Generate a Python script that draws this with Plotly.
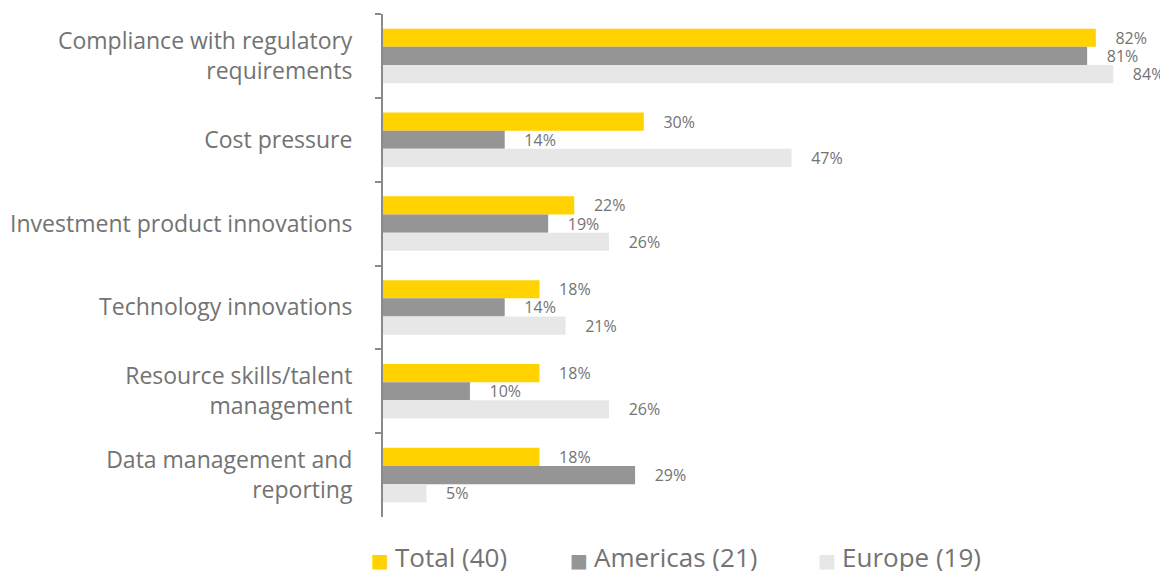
import plotly.graph_objects as go

categories = [
    "Compliance with regulatory<br>requirements",
    "Cost pressure",
    "Investment product innovations",
    "Technology innovations",
    "Resource skills/talent<br>management",
    "Data management and<br>reporting",
]
series_names = ["Total (40)", "Americas (21)", "Europe (19)"]
total = [82, 30, 22, 18, 18, 18]
americas = [81, 14, 19, 14, 10, 29]
europe = [84, 47, 26, 21, 26, 5]

colors = ["#FFD200", "#959595", "#E6E7E6"]
text_color = "#737373"
font_family = "Open Sans, Lato, DejaVu Sans, sans-serif"
pad = "\u00a0" * 4

fig = go.Figure()
for name, vals, col in zip(series_names, [total, americas, europe], colors):
    fig.add_trace(go.Bar(
        y=categories, x=vals, name=name, orientation="h",
        marker=dict(color=col, line=dict(width=0)),
        text=[f"{pad}{v}%" for v in vals],
        textposition="outside",
        constraintext="none",
        textfont=dict(color=text_color, size=16, family=font_family),
        cliponaxis=False,
        showlegend=False,
    ))

# page has an 8px body margin; compensate so the plot lands where the reference is
OFF = 8
W, H = 1168 - OFF, 571 - OFF
l, r, t, b = 383 - OFF, 0, 14 - OFF, 54
pw = W - l - r
ph = H - t - b

def lx(px):
    return (px - OFF - l) / pw

ly = -(557 - OFF - (H - b)) / ph
legend_x = [370, 569, 817]
for name, col, px in zip(series_names, colors, legend_x):
    fig.add_annotation(
        xref="paper", yref="paper", x=lx(px), y=ly,
        xanchor="left", yanchor="middle", showarrow=False,
        text=(f"<span style='color:{col};font-size:19px;font-family:DejaVu Sans'>■\u00a0</span>"
              f"{name}"),
        font=dict(size=26, color=text_color, family=font_family),
        borderpad=0,
    )

fig.update_layout(
    width=W, height=H,
    margin=dict(l=l, r=r, t=t, b=b),
    paper_bgcolor="white", plot_bgcolor="white",
    barmode="group", bargap=0.35, bargroupgap=0,
    font=dict(family=font_family, color=text_color),
    showlegend=False,
    xaxis=dict(range=[0, 90.3], visible=False, fixedrange=True),
    yaxis=dict(
        autorange="reversed", tickson="boundaries",
        ticks="outside", ticklen=6, tickcolor="#8a8a8a", tickwidth=2,
        showline=True, linecolor="#8a8a8a", linewidth=2,
        showgrid=False, zeroline=False,
        tickfont=dict(size=23, color=text_color, family=font_family),
        ticklabelstandoff=24,
    ),
)

fig.write_html("out.html")
